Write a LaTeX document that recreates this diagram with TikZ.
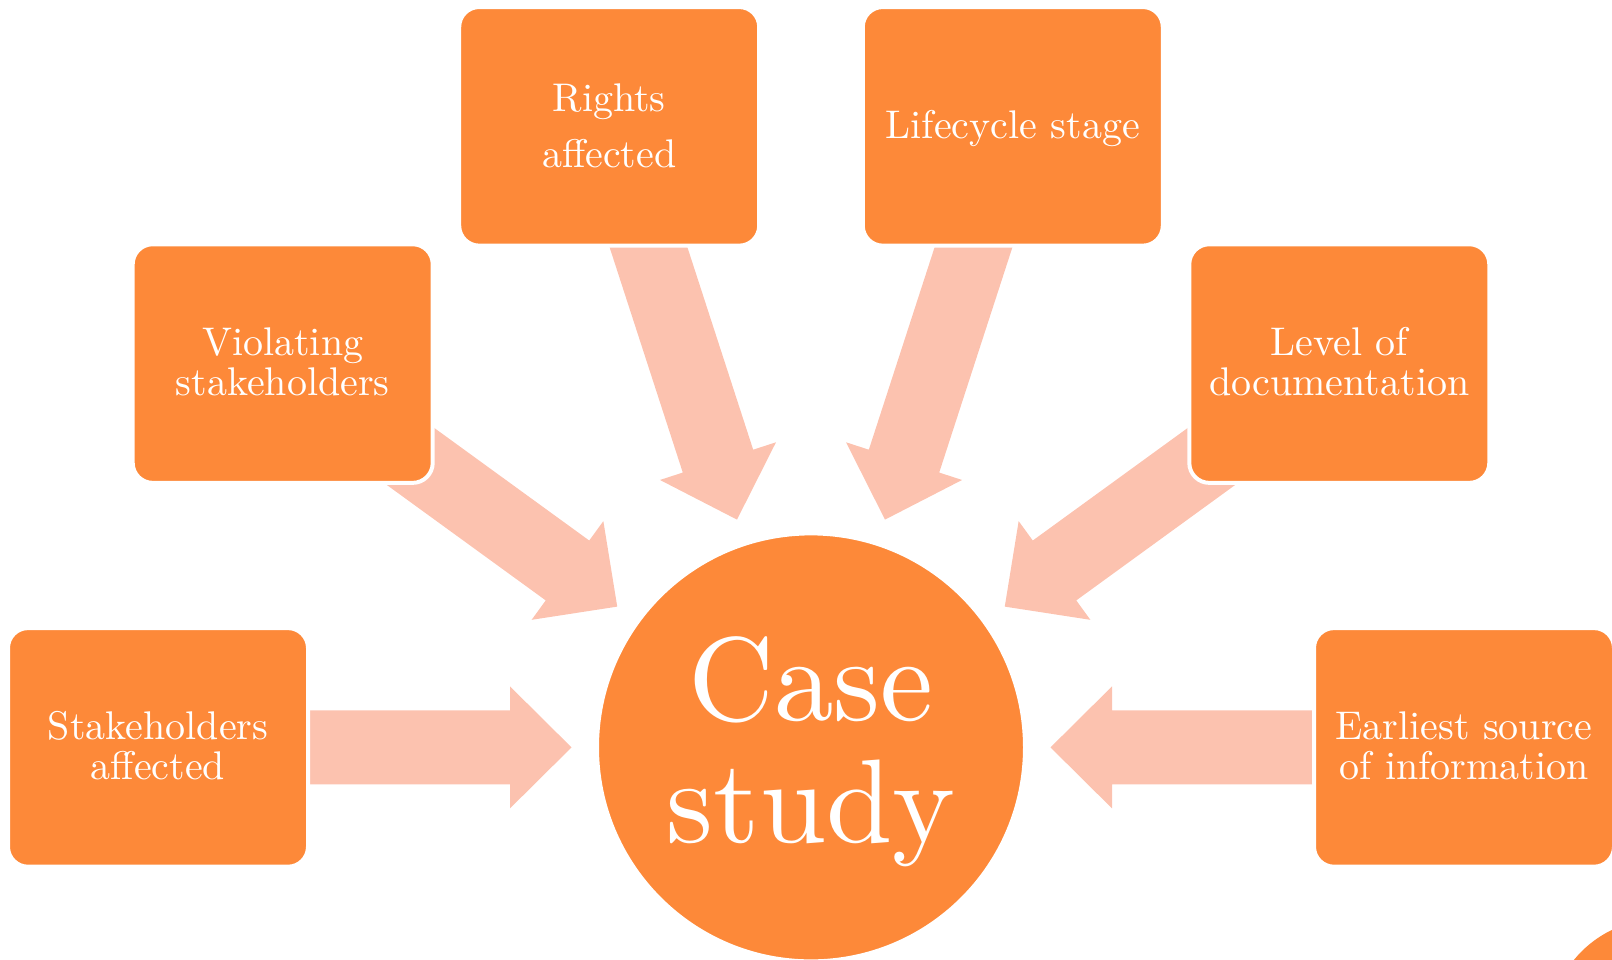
\documentclass[tikz,border=0pt]{standalone}
\usepackage{graphicx}
\usetikzlibrary{calc,backgrounds}
\definecolor{boxorange}{RGB}{253,137,57}
\definecolor{arrowpeach}{RGB}{252,194,175}
% Latin Modern 10pt design size, scaled up, stacked in centred lines;
% the last argument pads the top so the lines sit a little lower
\newcommand{\lmlines}[4]{\raisebox{0pt}[\dimexpr\height+#4\relax][\depth]{\scalebox{#1}{\fontsize{10}{#2}\selectfont\begin{tabular}{@{}c@{}}#3\end{tabular}}}}
\begin{document}
\begin{tikzpicture}[x=1pt,y=1pt,
  topic/.style={rectangle, rounded corners=20pt, fill=boxorange, draw=white,
    line width=4pt, minimum width=300pt, minimum height=238.6pt, inner sep=0pt, text=white},
  hub/.style={circle, fill=boxorange, draw=white, line width=4pt,
    minimum size=428pt, inner sep=0pt, text=white},
  fatarrow/.style={fill=arrowpeach}]
\useasboundingbox (0,0) rectangle (1612,960);

% central topic
\node[hub] (cs) at (811,212.6) {\lmlines{11.9}{10.2}{Case\\study}{20pt}};

% surrounding factors on a ring around the centre
\node[topic] (b1) at ($(cs.center)+(180:653)$) {\lmlines{4}{10}{Stakeholders\\affected}{8pt}};
\node[topic] (b2) at ($(cs.center)+(144:653)$) {\lmlines{4}{10}{Violating\\stakeholders}{8pt}};
\node[topic] (b3) at ($(cs.center)+(108:653)$) {\lmlines{4}{14}{Rights\\affected}{4pt}};
\node[topic] (b4) at ($(cs.center)+(72:653)$)  {\lmlines{4}{10}{Lifecycle stage}{8pt}};
\node[topic] (b5) at ($(cs.center)+(36:653)$)  {\lmlines{4}{10}{Level of\\documentation}{8pt}};
\node[topic] (b6) at ($(cs.center)+(0:653)$)   {\lmlines{4}{10}{Earliest source\\of information}{8pt}};

% fragment of a further circle in the corner
\fill[boxorange] (1660,-70) circle (111);

% block arrows from each factor towards the centre, behind the boxes
\begin{pgfonlayer}{background}
\foreach \b in {b1,b2,b3,b4,b5,b6}{
  \coordinate (tip)  at ($(cs.center)!239.5pt!(\b.center)$);
  \coordinate (neck) at ($(cs.center)!301pt!(\b.center)$);
  \coordinate (tail) at ($(cs.center)!560pt!(\b.center)$);
  \fill[fatarrow] (tip)
    -- ($(neck)!61pt!90:(cs.center)$) -- ($(neck)!37pt!90:(cs.center)$)
    -- ($(tail)!37pt!90:(cs.center)$) -- ($(tail)!37pt!-90:(cs.center)$)
    -- ($(neck)!37pt!-90:(cs.center)$) -- ($(neck)!61pt!-90:(cs.center)$)
    -- cycle;
}
\end{pgfonlayer}
\end{tikzpicture}
\end{document}
